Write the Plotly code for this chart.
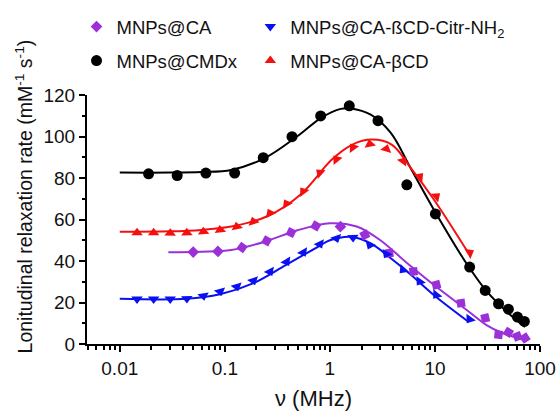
import plotly.graph_objects as go

# ---------------- data ----------------
names = ["MNPs@CA", "MNPs@CA-ßCD-Citr-NH<sub>2</sub>", "MNPs@CMDx", "MNPs@CA-βCD"]

# MNPs@CA (purple diamonds)
ca_f = [0.0293, 0.05, 0.086, 0.146, 0.25, 0.427, 0.735, 1.26, 2.15, 3.67, 6.25, 10.3,
        17.7, 30.1, 40.3, 50, 61, 72]
ca_r = [44.3, 44.3, 44.6, 46.5, 49.7, 53.7, 56.9, 56.6, 52.6, 43.8, 34.9, 28.5,
        19.7, 12.5, 4.5, 5.6, 3.7, 2.9]

# MNPs@CA-bCD-Citr-NH2 (blue down triangles) and MNPs@CA-bCD (red up triangles)
cd_f = [0.0101, 0.0146, 0.0210, 0.0302, 0.0435, 0.0626, 0.0902, 0.130, 0.187, 0.269,
        0.387, 0.558, 0.803, 1.156, 1.66, 2.40, 3.45, 4.97, 7.16, 10.3, 21.4]
nh2_r = [21.7, 21.7, 21.7, 21.7, 21.9, 23.2, 25.3, 27.7, 30.6, 34.9,
         39.7, 44.2, 48.2, 51.0, 51.3, 47.7, 43.4, 35.8, 30.1, 23.7, 12.0]
bcd_r = [53.6, 53.6, 53.6, 53.4, 53.6, 54.1, 55.0, 56.6, 59.0, 63.0,
         67.5, 73.5, 82.5, 89.0, 94.7, 96.3, 94.0, 88.1, 80.6, 71.1, 44.0]

# MNPs@CMDx (black circles)
cmdx_f = [0.01, 0.0188, 0.0352, 0.066, 0.124, 0.232, 0.436, 0.817, 1.53, 2.87, 5.4, 10.1,
          21.4, 30.1, 40.3, 50, 61, 71]
cmdx_r = [82.4, 82.0, 81.2, 82.4, 82.4, 89.8, 99.9, 109.9, 114.8, 107.6, 76.7, 62.7,
          37.1, 25.8, 19.4, 16.8, 13.0, 10.9]

# fitted curves
ca_fit_f = [0.029, 0.06, 0.115, 0.24, 0.49, 1.0, 1.8, 3.0, 5.45, 9.8, 20.2, 31.3, 41.7, 72]
ca_fit_r = [44.2, 44.5, 45.3, 49.3, 54.8, 58.2, 56.6, 50.1, 38.9, 28.4, 16.3, 9.0, 5.8, 1.8]

nh2_fit_f = [0.01, 0.043, 0.09, 0.185, 0.38, 0.79, 1.0, 1.58, 2.45, 3.8, 5.86, 9.8, 21]
nh2_fit_r = [21.8, 21.8, 24.0, 29.2, 38.0, 47.2, 50.0, 51.7, 48.5, 41.3, 33.5, 23.5, 10.6]

cmdx_fit_f = [0.01, 0.03, 0.06, 0.115, 0.24, 0.49, 0.82, 1.27, 1.58, 2.45, 3.8, 5.86, 9.8,
              20.2, 31.3, 48.4, 72]
cmdx_fit_r = [82.6, 82.6, 82.9, 83.9, 89.6, 100.1, 108.9, 113.3, 113.5, 110.5, 101.7, 84.8,
              64.6, 38.4, 25.2, 15.5, 8.2]

bcd_fit_f = [0.01, 0.03, 0.06, 0.115, 0.257, 0.53, 1.05, 1.62, 2.5, 3.9, 5.9, 9.8, 20.9]
bcd_fit_r = [54.1, 54.3, 55.0, 56.6, 61.7, 72.2, 89.0, 96.0, 98.5, 96.0, 84.8, 69.5, 43.7]

x_tickvals = [0.01, 0.1, 1, 10, 100]
x_ticktext = ["0.01", "0.1", "1", "10", "100"]

# ---------------- styling ----------------
PURPLE = "#9B30D8"
BLUE = "#0A10F0"
RED = "#F41010"
BLACK = "#000000"
FONT = "Liberation Sans, Arial, sans-serif"

W, H = 558, 411
ML, MR, MT, MB = 86.5, 18, 95, 66.7
PW, PH = W - ML - MR, H - MT - MB


def px_x(p):
    return (p - ML) / PW


def px_y(p):
    return (H - MB - p) / PH


fig = go.Figure()

fits = [
    (ca_fit_f, ca_fit_r, PURPLE),
    (nh2_fit_f, nh2_fit_r, BLUE),
    (cmdx_fit_f, cmdx_fit_r, BLACK),
    (bcd_fit_f, bcd_fit_r, RED),
]
for fx, fy, col in fits:
    fig.add_trace(go.Scatter(x=fx, y=fy, mode="lines",
                             line=dict(color=col, width=2, shape="spline", smoothing=1.0),
                             showlegend=False, hoverinfo="skip"))

pts = [
    (ca_f, ca_r, PURPLE, "diamond", 9, 0, names[0], "legend"),
    (cd_f, nh2_r, BLUE, "triangle-down", 10, -90, names[1], "legend2"),
    (cmdx_f, cmdx_r, BLACK, "circle", 11, 0, names[2], "legend3"),
    (cd_f, bcd_r, RED, "triangle-up", 10, -90, names[3], "legend4"),
]
for px, py, col, sym, sz, ang, nm, lg in pts:
    fig.add_trace(go.Scatter(x=px, y=py, mode="markers", name=nm,
                             marker=dict(color=col, symbol=sym, size=sz, angle=ang, angleref="previous",
                                         line=dict(width=0)),
                             showlegend=False))
    # legend entry only (no data drawn)
    fig.add_trace(go.Scatter(x=[None], y=[None], mode="markers", name=nm, legend=lg,
                             marker=dict(color=col, symbol=sym, size=sz, line=dict(width=0)),
                             showlegend=True))

legend_common = dict(orientation="h", xref="paper", yref="paper", xanchor="left",
                     yanchor="middle",
                     font=dict(family=FONT, size=18.5, color="#111111"), bgcolor="rgba(0,0,0,0)",
                     itemclick=False, itemdoubleclick=False)

col1_x, col2_x = 76, 250
row1_y, row2_y = 27, 61

fig.update_layout(
    width=W, height=H,
    margin=dict(l=ML, r=MR, t=MT, b=MB, autoexpand=False),
    paper_bgcolor="white", plot_bgcolor="white",
    font=dict(family=FONT, color="#111111"),
    legend=dict(x=px_x(col1_x), y=px_y(row1_y), **legend_common),
    legend2=dict(x=px_x(col2_x), y=px_y(row1_y), **legend_common),
    legend3=dict(x=px_x(col1_x), y=px_y(row2_y), **legend_common),
    legend4=dict(x=px_x(col2_x), y=px_y(row2_y), **legend_common),
    xaxis=dict(
        type="log", range=[-2.312, 2.0], showgrid=False, zeroline=False, automargin=False,
        showline=True, linecolor="black", linewidth=2,
        tickmode="array", tickvals=x_tickvals, ticktext=x_ticktext,
        ticks="outside", ticklen=6, tickwidth=2, tickcolor="black",
        tickfont=dict(family=FONT, size=19, color="#111111"),
        minor=dict(ticks="outside", ticklen=3.5, tickwidth=1.5, tickcolor="black", dtick="D1", showgrid=False),
        title=dict(text="ν (MHz)", font=dict(family=FONT, size=22, color="#111111"), standoff=15),
    ),
    yaxis=dict(
        range=[0, 120], showgrid=False, zeroline=False, automargin=False,
        showline=True, linecolor="black", linewidth=2,
        tickmode="linear", tick0=0, dtick=20,
        ticks="outside", ticklen=6, tickwidth=2, tickcolor="black",
        tickfont=dict(family=FONT, size=19, color="#111111"),
        minor=dict(ticks="outside", ticklen=3.5, tickwidth=1.5, tickcolor="black", dtick=10, showgrid=False),
    ),
    annotations=[dict(
        text="Lonitudinal relaxation rate (mM<sup>-1</sup> s<sup>-1</sup>)",
        textangle=-90, xref="paper", yref="paper",
        x=px_x(23), y=px_y(197),
        xanchor="center", yanchor="middle", showarrow=False,
        font=dict(family=FONT, size=19.5, color="#111111"),
    )],
)

fig.write_html("out.html", config={"displayModeBar": False},
               post_script="document.body.style.margin='0px';")
